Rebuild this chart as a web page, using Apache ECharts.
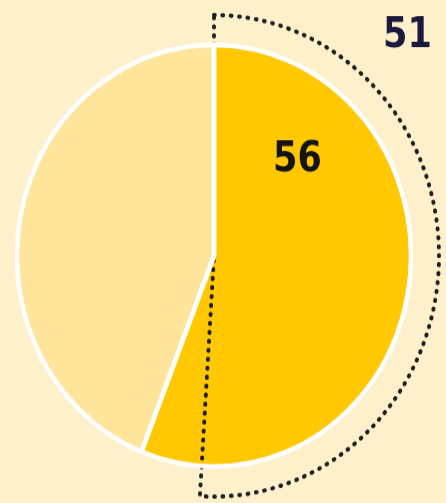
<!DOCTYPE html>
<html>
<head>
<meta charset="utf-8">
<script src="https://cdn.jsdelivr.net/npm/echarts@6/dist/echarts.min.js"></script>
<style>
html{margin:0;padding:0;background:#FEF0CA;overflow:hidden;}
body{margin:0;padding:0;background:#FEF0CA;width:446px;height:503px;}
#c{width:446px;height:470px;transform:scaleY(1.0702);transform-origin:0 0;}
</style>
</head>
<body>
<div id="c"></div>
<script>
const categories = ['Ja', 'Nein'];
const mainValues = [56, 44];
const outlineValues = [51, 49];
const mainLabel = '56';
const outlineLabel = '51';

const chart = echarts.init(document.getElementById('c'), null, {renderer: 'canvas'});
const center = [214, 239];
const pieR = 197;
const outR = 225;
const colors = ['#FFC800', '#FFE59B'];

chart.setOption({
  backgroundColor: '#FEF0CA',
  animation: false,
  series: [
    {
      type: 'pie', center: center, radius: [0, pieR], startAngle: 90, clockwise: true,
      silent: true, label: {show: false}, labelLine: {show: false},
      data: categories.map((n, i) => ({name: n, value: mainValues[i], itemStyle: {color: colors[i], borderWidth: 0}}))
    },
    {
      type: 'pie', center: center, radius: [0, outR], startAngle: 90, clockwise: true,
      silent: true, label: {show: false}, labelLine: {show: false},
      data: categories.map((n, i) => ({
        name: n, value: outlineValues[i],
        itemStyle: i === 0
          ? {color: 'rgba(0,0,0,0)', borderColor: '#1E1E1E', borderWidth: 4, borderType: [0.8, 7.6], borderCap: 'round', borderJoin: 'round'}
          : {color: 'rgba(0,0,0,0)', borderWidth: 0}
      }))
    },
    {
      type: 'pie', center: center, radius: [0, pieR], startAngle: 90, clockwise: true,
      silent: true, label: {show: false}, labelLine: {show: false},
      data: categories.map((n, i) => ({name: n, value: mainValues[i], itemStyle: {color: 'rgba(0,0,0,0)', borderColor: '#FFFFFF', borderWidth: 4.5}}))
    }
  ],
  graphic: [
    {type: 'text', z: 100, left: 273, top: 130, style: {text: mainLabel, font: 'bold 39px "Liberation Sans Narrow", "DejaVu Sans Condensed", sans-serif', fill: '#141414'}},
    {type: 'text', z: 100, left: 383, top: 14, style: {text: outlineLabel, font: 'bold 39px "Liberation Sans Narrow", "DejaVu Sans Condensed", sans-serif', fill: '#1A1A3C'}}
  ]
});
</script>
</body>
</html>
